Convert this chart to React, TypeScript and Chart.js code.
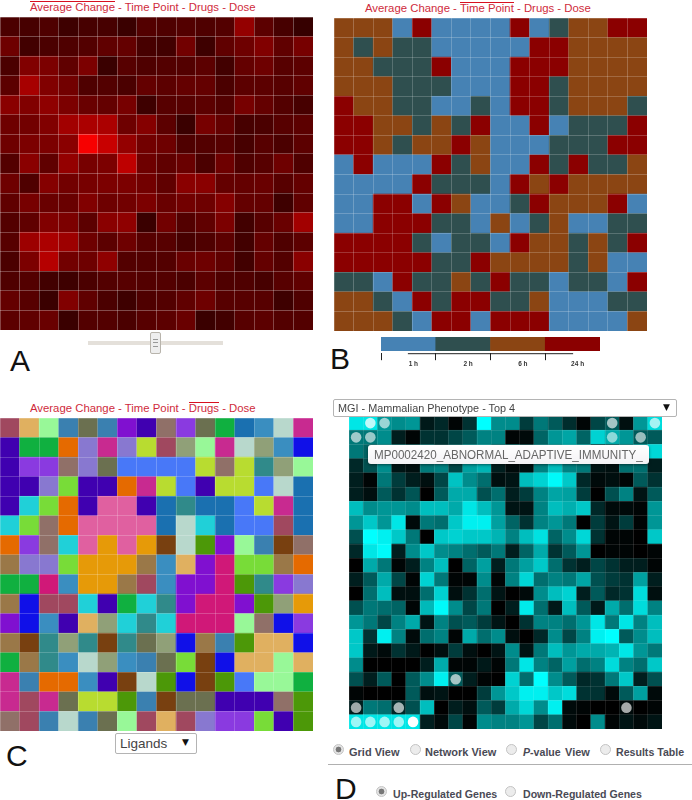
import React, { useEffect, useRef } from "react";
import Chart from "chart.js/auto";

const FONT = '"Liberation Sans", Arial, sans-serif';

// Panel A: red level of each grid cell
const averageChange: number[][] = [
  [70,65,75,55,65,65,50,80,75,80,75,80,150,90,65,45],
  [110,60,70,75,80,95,100,65,60,115,55,95,110,130,95,120],
  [70,130,125,95,125,50,85,75,80,80,90,60,100,110,85,90],
  [90,170,130,115,75,80,70,100,90,100,100,70,90,90,85,95],
  [140,130,145,125,105,100,120,55,85,85,90,80,120,100,80,65],
  [110,115,130,165,175,175,110,135,90,50,120,100,65,70,85,90],
  [110,125,125,140,255,205,150,115,110,75,80,85,65,85,70,90],
  [80,140,95,150,120,125,195,110,95,105,70,110,75,85,110,75],
  [110,75,135,115,120,125,125,115,95,140,140,100,100,105,85,100],
  [95,120,105,105,130,110,115,125,105,115,110,135,100,100,55,95],
  [80,95,130,125,90,140,145,50,115,80,95,125,60,85,105,165],
  [85,160,175,160,110,90,110,85,85,65,75,90,60,100,75,90],
  [70,125,185,115,110,145,80,80,80,105,110,95,60,100,80,140],
  [75,80,60,55,70,80,85,80,80,70,90,75,75,65,85,95],
  [100,85,50,130,95,70,55,75,80,95,110,85,85,85,55,75],
  [90,95,105,50,80,80,70,85,90,105,50,60,85,90,80,80],
];

// Panel B: time point of each grid cell
const timeLabels = ["1 h", "2 h", "6 h", "24 h"];
const timePoint: string[] = [
  "2 2 2 0 3 0 0 0 0 3 0 1 2 2 3 3",
  "2 1 2 1 1 0 0 0 0 0 3 3 2 2 2 2",
  "2 2 1 1 1 3 0 0 0 3 3 3 2 2 2 2",
  "2 2 2 1 1 1 0 0 0 3 3 1 2 2 2 2",
  "3 2 2 1 1 0 0 1 0 3 3 1 2 2 2 1",
  "3 3 2 2 1 2 1 3 0 0 3 0 1 1 1 3",
  "3 3 2 1 2 2 3 2 0 0 0 1 1 1 3 3",
  "0 3 0 0 0 3 1 2 0 0 3 1 3 1 1 2",
  "0 0 0 0 3 1 1 1 0 3 2 3 2 2 2 2",
  "0 0 3 3 0 3 2 0 0 1 3 2 2 2 3 0",
  "0 0 3 3 3 1 1 0 2 0 1 2 0 0 1 1",
  "3 3 3 3 1 0 1 1 0 3 2 2 1 2 1 3",
  "3 3 3 3 3 1 1 3 2 2 2 2 1 2 0 0",
  "1 1 0 3 1 1 2 1 3 1 1 0 1 1 0 3",
  "2 2 1 0 3 1 3 3 1 1 2 0 0 0 1 1",
  "2 2 2 1 0 3 3 0 3 3 3 0 0 0 0 2",
];
const timeColors = ["#4682b4", "#2f4f4f", "#8b4513", "#8b0000"];

// Panel C: drug (ligand) of each grid cell
const drugs: string[] = [
  "a b c d e d f g h i e j k l m n",
  "g j j o p n p q a r c n m r l s",
  "g i i h p e t t t t q h q u r c",
  "g g p v g g o n q t g q q t m k",
  "g w v o g x x g k u k k t q n k",
  "w v h o x x x x k m w k t t a k",
  "o i h w x y x y z m A f c d z h",
  "B p p v y y y B l b f C v v B o",
  "j j C l y y B a l f f C A u i p",
  "B s a a w g j w u f C C f A r y",
  "f s l g b r w u w C C C c h s i",
  "B z u r u z u e r s B d A b b s",
  "j B u l m r l d e v z s b b c b",
  "n d o o l g z m A s z A t c c j",
  "n a n e q q A d z e e g g g h A",
  "h a d m d e c a b a p i i v g A",
];
const drugColors: Record<string, string> = {
  a: "#a0485f", b: "#e0b060", c: "#98f898", d: "#3a80b0", e: "#6b7050", f: "#8010d0",
  g: "#4000b0", h: "#907068", i: "#8a3ae0", j: "#10b040", k: "#1a70b0", l: "#3a8ec0",
  m: "#b8d8cc", n: "#c82a90", o: "#e56a00", p: "#8878d0", q: "#b8dc30", r: "#90a078",
  s: "#1010e8", t: "#4878f8", u: "#308a8a", v: "#78dc38", w: "#20d0d8", x: "#e060a0",
  y: "#e69a08", z: "#784010", A: "#4c9808", B: "#9a7848", C: "#d01878",
};

// Panel D: cyan level of each grid cell
const enrichment: number[][] = [
  [230,230,150,140,150,25,40,5,50,255,140,140,60,120,90,45,5,70,90,15,150,220],
  [120,120,140,30,5,50,50,70,90,130,130,5,10,100,150,165,100,210,170,150,90,90],
  [120,100,130,90,70,100,60,90,130,150,110,90,60,120,140,170,150,60,80,120,150,215],
  [40,80,140,20,15,120,130,70,160,180,30,10,15,130,190,130,120,20,15,110,110,30],
  [30,5,120,60,30,15,70,195,140,110,15,20,190,210,250,200,40,10,15,5,90,50],
  [30,15,90,50,85,0,90,170,170,80,110,30,60,130,165,160,60,0,80,130,20,90],
  [190,140,150,150,140,190,190,170,230,190,150,20,20,130,190,175,200,40,10,10,5,150],
  [150,200,150,230,10,120,110,200,240,240,160,100,50,130,150,120,0,60,20,60,5,150],
  [80,255,240,200,120,0,200,210,200,200,180,130,190,225,100,140,215,50,5,5,0,200],
  [40,230,250,30,140,200,140,130,110,90,120,30,100,170,50,90,150,0,5,5,0,5],
  [0,170,120,5,30,130,190,0,100,160,30,120,160,200,110,50,30,70,50,30,30,5],
  [30,90,170,70,5,210,120,5,5,140,5,130,215,110,130,120,165,80,60,50,160,30],
  [0,110,190,15,15,110,210,15,50,110,20,0,10,140,190,210,30,90,40,50,220,15],
  [80,120,110,100,5,185,250,140,70,120,0,30,235,110,25,190,90,25,170,110,220,130],
  [150,120,70,130,170,20,130,80,90,60,20,0,50,130,130,110,150,230,120,230,130,190],
  [200,50,240,130,10,110,130,5,170,110,140,15,0,40,140,70,130,240,255,90,140,190],
  [200,25,10,50,25,0,15,60,15,0,20,140,20,120,190,150,170,170,180,230,150,120],
  [140,0,0,0,0,30,170,5,5,25,5,120,230,130,100,160,110,130,220,130,110,200],
  [80,30,90,0,90,140,240,90,30,5,0,210,110,255,140,90,40,50,120,200,30,80],
  [5,0,0,0,90,15,20,0,0,60,150,200,240,240,200,220,50,50,10,90,160,10],
  [30,120,110,40,80,190,0,30,15,90,60,170,215,140,240,10,5,0,0,10,0,5],
  [230,230,230,230,230,30,10,70,5,140,130,130,150,70,110,10,0,140,5,20,10,20],
];
// Marked gene sets in panel D: row, column, opacity
const markedSets: [number, number, number][] = [
  [0,1,0.75],[0,2,0.6],[0,18,0.65],[0,21,0.65],
  [1,0,0.62],[1,1,0.6],[1,18,0.55],[1,20,0.6],
  [18,7,0.65],[20,0,0.62],[20,3,0.65],[20,19,0.65],
  [21,0,0.62],[21,1,0.62],[21,2,0.62],[21,3,0.62],[21,4,1],
];

const titleParts = ["Average Change", "Time Point", "Drugs", "Dose"];
const viewOptions = ["Grid View", "Network View", "P-value", "Results Table"];
const regulationOptions = ["Up-Regulated Genes", "Down-Regulated Genes"];

type Cell = { x: number; y: number };

function HeatMap({ left, top, size, grid, rows, color, marks }: {
  left: number; top: number; size: number; grid: string; rows: number;
  color: (r: number, c: number) => string; marks?: [number, number, number][];
}) {
  const ref = useRef<HTMLCanvasElement>(null);
  useEffect(() => {
    const cells: Cell[] = [];
    const colors: string[] = [];
    for (let r = 0; r < rows; r++) {
      for (let c = 0; c < rows; c++) {
        cells.push({ x: c + 0.5, y: r + 0.5 });
        colors.push(color(r, c));
      }
    }
    const datasets: any[] = [{
      data: cells,
      order: 2,
      pointStyle: "rect",
      pointBackgroundColor: colors,
      pointBorderWidth: 0,
      pointRadius: (ctx: any) => ((ctx.chart.scales.x.width / rows + 0.6) / 2) * Math.SQRT2,
      showLine: false,
    }];
    if (marks) {
      datasets.push({
        data: marks.map(([r, c]) => ({ x: c + 0.5, y: r + 0.5 })),
        order: 1,
        pointStyle: "circle",
        pointBackgroundColor: marks.map(([, , a]) => `rgba(255,255,255,${a})`),
        pointBorderWidth: 0,
        // no radius before the layout pass, so the plot keeps its full width
        pointRadius: (ctx: any) => (ctx.chart.scales.x && ctx.chart.scales.x.width ? 5.3 : 0),
        showLine: false,
      });
    }
    const axis = (reverse: boolean) => ({
      type: "linear" as const, min: 0, max: rows, reverse,
      ticks: { display: false, stepSize: 1, autoSkip: false },
      grid: { color: grid, z: 1, drawTicks: false, lineWidth: 1 },
      border: { display: false },
    });
    const chart = new Chart(ref.current!, {
      type: "scatter",
      data: { datasets },
      options: {
        animation: false, responsive: false, events: [],
        layout: { padding: 0 },
        plugins: { legend: { display: false }, tooltip: { enabled: false } },
        scales: { x: axis(false), y: axis(true) },
      },
    });
    return () => chart.destroy();
  }, []);
  return <canvas ref={ref} width={size} height={size}
    style={{ position: "absolute", left, top, width: size, height: size }} />;
}

const domainLine = {
  id: "domainLine",
  afterDraw(chart: any) {
    const s = chart.scales.x;
    const c = chart.ctx;
    c.save();
    c.strokeStyle = "#222";
    c.lineWidth = 1;
    c.beginPath();
    c.moveTo(s.getPixelForTick(0) - 0.5, chart.chartArea.bottom + 0.5);
    c.lineTo(s.getPixelForTick(timeLabels.length - 1) + 0.5, chart.chartArea.bottom + 0.5);
    c.stroke();
    c.restore();
  },
};

function TimeLegend() {
  const ref = useRef<HTMLCanvasElement>(null);
  useEffect(() => {
    const chart = new Chart(ref.current!, {
      type: "bar",
      data: {
        labels: timeLabels,
        datasets: [{
          data: timeLabels.map(() => [0.15, 1]) as any,
          backgroundColor: timeColors,
          categoryPercentage: 1,
          barPercentage: 1,
        }],
      },
      options: {
        animation: false, responsive: false, events: [],
        layout: { padding: 0 },
        plugins: { legend: { display: false }, tooltip: { enabled: false } },
        scales: {
          x: {
            grid: { drawOnChartArea: false, drawTicks: true, tickLength: 7, tickColor: "#222" },
            border: { display: false },
            ticks: {
              color: "#333", maxRotation: 0, padding: 0, labelOffset: 5,
              font: { family: FONT, size: 6.5, weight: "bold" },
            },
          },
          y: { display: false, min: 0, max: 1 },
        },
      },
      plugins: [domainLine],
    });
    return () => chart.destroy();
  }, []);
  return <canvas ref={ref} width={219} height={31}
    style={{ position: "absolute", left: 381, top: 337, width: 219, height: 31 }} />;
}

function Title({ left, top, active }: { left: number; top: number; active: number }) {
  return (
    <div style={{ position: "absolute", left, top, whiteSpace: "pre", font: `11.35px ${FONT}`, color: "#cf2b3c", lineHeight: "14px" }}>
      {titleParts.map((p, i) => (
        <React.Fragment key={p}>
          {i > 0 ? <span>{" - "}</span> : null}
          <span style={i === active ? { position: "relative" } : undefined}>
            {i === active ? <span style={{ position: "absolute", left: 0, right: 0, top: 0, height: 1, background: "#d81020" }} /> : null}
            {p}
          </span>
        </React.Fragment>
      ))}
    </div>
  );
}

function Text({ x, y, children, style }: { x: number; y: number; children: React.ReactNode; style?: React.CSSProperties }) {
  return <div style={{ position: "absolute", left: x, top: y, whiteSpace: "pre", ...style }}>{children}</div>;
}

function Letter({ x, y, c }: { x: number; y: number; c: string }) {
  return <Text x={x} y={y} style={{ font: `30px ${FONT}`, color: "#111", lineHeight: "30px" }}>{c}</Text>;
}

function Radio({ x, y, on }: { x: number; y: number; on?: boolean }) {
  return (
    <div style={{
      position: "absolute", left: x - 5.5, top: y - 5.5, width: 11, height: 11, borderRadius: "50%", boxSizing: "border-box",
      border: "1px solid #c4c4c4", background: on ? "radial-gradient(circle, #777 0 2.6px, #e4e4e4 3.2px)" : "#ececec",
    }} />
  );
}

function Select({ x, y, w, h, label, fs, arrowX, squeeze = 1 }: { x: number; y: number; w: number; h: number; label: string; fs: number; arrowX: number; squeeze?: number }) {
  return (
    <>
      <div style={{ position: "absolute", left: x, top: y, width: w, height: h, boxSizing: "border-box", border: "1px solid #b4b4b4", borderRadius: 2, background: "#fff" }} />
      <Text x={x + 5} y={y} style={{ font: `${fs}px ${FONT}`, color: "#444", lineHeight: `${h}px`, transform: `scaleX(${squeeze})`, transformOrigin: "left" }}>{label}</Text>
      <Text x={arrowX} y={y - 1} style={{ font: `9px "DejaVu Sans", sans-serif`, color: "#111", lineHeight: `${h}px` }}>▼</Text>
    </>
  );
}

// Dark cells of panel A are lifted slightly; the bright end stays as read.
const redShade = (v: number) => Math.round(v < 100 ? v + 16 * (1 - v / 100) : v * 0.95 + 5);

export default function App() {
  const boldLabel: React.CSSProperties = { font: `bold 11px ${FONT}`, color: "#4a4a55", lineHeight: "14px" };
  const smallBold: React.CSSProperties = { ...boldLabel, font: `bold 10.6px ${FONT}`, lineHeight: "14px" };
  return (
    <div style={{ position: "absolute", left: 0, top: 0, width: 692, height: 800, overflow: "hidden", background: "#fff", filter: "blur(0.45px)" }}>
      <Title left={30} top={0} active={0} />
      <Title left={365} top={1} active={1} />
      <Title left={30} top={401} active={2} />

      <HeatMap left={0} top={17} size={313} rows={16} grid="rgba(255,255,255,0.27)"
        color={(r, c) => `rgb(${redShade(averageChange[r][c])},0,0)`} />
      <HeatMap left={334} top={18} size={313} rows={16} grid="rgba(255,255,255,0.2)"
        color={(r, c) => timeColors[Number(timePoint[r].split(" ")[c])]} />
      <HeatMap left={0} top={418} size={313} rows={16} grid="rgba(255,255,255,0.2)"
        color={(r, c) => drugColors[drugs[r].split(" ")[c]]} />
      <HeatMap left={349} top={416} size={313} rows={22} grid="rgba(255,255,255,0.1)"
        color={(r, c) => { const v = enrichment[r][c]; return `rgb(0,${v},${v})`; }} marks={markedSets} />
      <TimeLegend />

      {/* slider under panel A */}
      <div style={{ position: "absolute", left: 88, top: 341, width: 135, height: 4, background: "#e4e0da" }} />
      <div style={{ position: "absolute", left: 150, top: 332, width: 11, height: 22, boxSizing: "border-box", border: "1px solid #b8b4ac", borderRadius: 2, background: "#eeeeee" }}>
        <div style={{ margin: "6px 2px 0", height: 6, borderTop: "1px solid #999", borderBottom: "1px solid #999", position: "relative" }}>
          <div style={{ position: "absolute", left: 0, right: 0, top: 2, height: 1, background: "#999" }} />
        </div>
      </div>

      <Letter x={10} y={346} c="A" />
      <Letter x={330} y={344} c="B" />
      <Letter x={6} y={741} c="C" />
      <Letter x={335} y={774} c="D" />

      <Select x={115} y={733} w={82} h={21} label="Ligands" fs={13.5} arrowX={182} />
      <Select x={333} y={399} w={344} h={18} label="MGI - Mammalian Phenotype - Top 4" fs={11.8} arrowX={663} squeeze={0.92} />

      {/* gene set tooltip */}
      <div style={{
        position: "absolute", left: 368, top: 445, width: 281, height: 19, borderRadius: 3,
        background: "linear-gradient(#ffffff,#f4f3f6)", boxShadow: "0 1px 3px rgba(0,0,0,0.5)",
      }} />
      <Text x={374} y={445} style={{ font: `13.4px ${FONT}`, color: "#666", lineHeight: "19px", transform: "scaleX(0.868)", transformOrigin: "left" }}>
        MP0002420_ABNORMAL_ADAPTIVE_IMMUNITY_
      </Text>

      <Radio x={338} y={749} on />
      <Text x={349} y={745} style={boldLabel}>{viewOptions[0]}</Text>
      <Radio x={415} y={749} />
      <Text x={425} y={745} style={boldLabel}>{viewOptions[1]}</Text>
      <Radio x={511.5} y={749} />
      <Text x={523} y={745} style={smallBold}><i>P</i>-value</Text>
      <Text x={565} y={745} style={boldLabel}>View</Text>
      <Radio x={605} y={749} />
      <Text x={616} y={745} style={smallBold}>{viewOptions[3]}</Text>

      <div style={{ position: "absolute", left: 328, top: 764, width: 364, height: 1, background: "#b0b0b0" }} />

      <Radio x={381} y={791} on />
      <Text x={393} y={787} style={smallBold}>{regulationOptions[0]}</Text>
      <Radio x={510} y={791} />
      <Text x={523} y={787} style={smallBold}>{regulationOptions[1]}</Text>
    </div>
  );
}
